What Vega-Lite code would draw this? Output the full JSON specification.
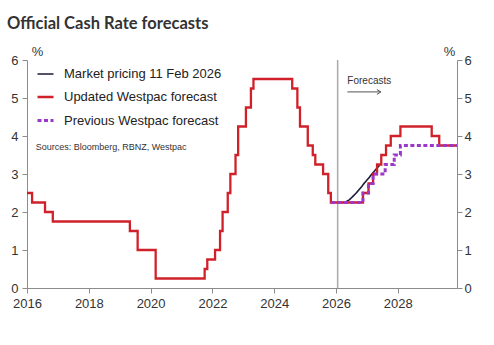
{
  "$schema": "https://vega.github.io/schema/vega-lite/v6.json",
  "width": 430,
  "height": 228,
  "autosize": {"type": "none"},
  "padding": {"left": 27, "top": 60, "right": 37, "bottom": 57},
  "background": "white",
  "config": {
    "view": {"stroke": null},
    "font": "Liberation Sans",
    "axis": {"grid": false, "domainColor": "#8c8c8c", "tickColor": "#8c8c8c", "labelColor": "#333333", "labelFontSize": 13, "labelFont": "Liberation Sans", "titleFont": "Liberation Sans", "titleFontWeight": "normal", "titleColor": "#333333", "titleFontSize": 13}
  },
  "title": {"text": "Official Cash Rate forecasts", "anchor": "start", "frame": "group", "dx": -20, "offset": 13, "font": "Lato", "fontSize": 16.5, "fontWeight": "bold", "color": "#333333"},
  "datasets": {
    "updated": [
      {"series": "Updated Westpac forecast", "date": "2016-01-01", "rate": 2.5},
      {"series": "Updated Westpac forecast", "date": "2016-03-01", "rate": 2.25},
      {"series": "Updated Westpac forecast", "date": "2016-08-01", "rate": 2.0},
      {"series": "Updated Westpac forecast", "date": "2016-11-01", "rate": 1.75},
      {"series": "Updated Westpac forecast", "date": "2019-05-01", "rate": 1.5},
      {"series": "Updated Westpac forecast", "date": "2019-08-01", "rate": 1.0},
      {"series": "Updated Westpac forecast", "date": "2020-03-01", "rate": 0.25},
      {"series": "Updated Westpac forecast", "date": "2021-10-01", "rate": 0.5},
      {"series": "Updated Westpac forecast", "date": "2021-11-01", "rate": 0.75},
      {"series": "Updated Westpac forecast", "date": "2022-02-01", "rate": 1.0},
      {"series": "Updated Westpac forecast", "date": "2022-04-01", "rate": 1.5},
      {"series": "Updated Westpac forecast", "date": "2022-05-01", "rate": 2.0},
      {"series": "Updated Westpac forecast", "date": "2022-07-01", "rate": 2.5},
      {"series": "Updated Westpac forecast", "date": "2022-08-01", "rate": 3.0},
      {"series": "Updated Westpac forecast", "date": "2022-10-01", "rate": 3.5},
      {"series": "Updated Westpac forecast", "date": "2022-11-01", "rate": 4.25},
      {"series": "Updated Westpac forecast", "date": "2023-02-01", "rate": 4.75},
      {"series": "Updated Westpac forecast", "date": "2023-04-01", "rate": 5.25},
      {"series": "Updated Westpac forecast", "date": "2023-05-01", "rate": 5.5},
      {"series": "Updated Westpac forecast", "date": "2024-08-01", "rate": 5.25},
      {"series": "Updated Westpac forecast", "date": "2024-10-01", "rate": 4.75},
      {"series": "Updated Westpac forecast", "date": "2024-11-01", "rate": 4.25},
      {"series": "Updated Westpac forecast", "date": "2025-02-01", "rate": 3.75},
      {"series": "Updated Westpac forecast", "date": "2025-04-01", "rate": 3.5},
      {"series": "Updated Westpac forecast", "date": "2025-05-01", "rate": 3.25},
      {"series": "Updated Westpac forecast", "date": "2025-08-01", "rate": 3.0},
      {"series": "Updated Westpac forecast", "date": "2025-10-01", "rate": 2.5},
      {"series": "Updated Westpac forecast", "date": "2025-11-01", "rate": 2.25},
      {"series": "Updated Westpac forecast", "date": "2026-11-15", "rate": 2.5},
      {"series": "Updated Westpac forecast", "date": "2027-01-20", "rate": 2.75},
      {"series": "Updated Westpac forecast", "date": "2027-03-15", "rate": 3.0},
      {"series": "Updated Westpac forecast", "date": "2027-05-01", "rate": 3.25},
      {"series": "Updated Westpac forecast", "date": "2027-06-20", "rate": 3.5},
      {"series": "Updated Westpac forecast", "date": "2027-08-15", "rate": 3.75},
      {"series": "Updated Westpac forecast", "date": "2027-10-10", "rate": 4.0},
      {"series": "Updated Westpac forecast", "date": "2028-02-01", "rate": 4.25},
      {"series": "Updated Westpac forecast", "date": "2029-02-05", "rate": 4.0},
      {"series": "Updated Westpac forecast", "date": "2029-05-05", "rate": 3.75},
      {"series": "Updated Westpac forecast", "date": "2029-12-01", "rate": 3.75}
    ],
    "previous": [
      {"series": "Previous Westpac forecast", "date": "2025-11-01", "rate": 2.25},
      {"series": "Previous Westpac forecast", "date": "2026-11-15", "rate": 2.5},
      {"series": "Previous Westpac forecast", "date": "2027-01-20", "rate": 2.75},
      {"series": "Previous Westpac forecast", "date": "2027-03-15", "rate": 3.0},
      {"series": "Previous Westpac forecast", "date": "2027-08-05", "rate": 3.25},
      {"series": "Previous Westpac forecast", "date": "2027-11-20", "rate": 3.5},
      {"series": "Previous Westpac forecast", "date": "2028-02-01", "rate": 3.75},
      {"series": "Previous Westpac forecast", "date": "2029-12-01", "rate": 3.75}
    ],
    "market": [
      {"series": "Market pricing 11 Feb 2026", "date": "2026-02-01", "rate": 2.25},
      {"series": "Market pricing 11 Feb 2026", "date": "2026-03-01", "rate": 2.25},
      {"series": "Market pricing 11 Feb 2026", "date": "2026-04-01", "rate": 2.25},
      {"series": "Market pricing 11 Feb 2026", "date": "2026-05-01", "rate": 2.27},
      {"series": "Market pricing 11 Feb 2026", "date": "2026-06-01", "rate": 2.31},
      {"series": "Market pricing 11 Feb 2026", "date": "2026-07-01", "rate": 2.37},
      {"series": "Market pricing 11 Feb 2026", "date": "2026-08-01", "rate": 2.44},
      {"series": "Market pricing 11 Feb 2026", "date": "2026-09-01", "rate": 2.51},
      {"series": "Market pricing 11 Feb 2026", "date": "2026-10-01", "rate": 2.59},
      {"series": "Market pricing 11 Feb 2026", "date": "2026-11-01", "rate": 2.67},
      {"series": "Market pricing 11 Feb 2026", "date": "2026-12-01", "rate": 2.76},
      {"series": "Market pricing 11 Feb 2026", "date": "2027-01-01", "rate": 2.84},
      {"series": "Market pricing 11 Feb 2026", "date": "2027-02-01", "rate": 2.92},
      {"series": "Market pricing 11 Feb 2026", "date": "2027-03-01", "rate": 3.0},
      {"series": "Market pricing 11 Feb 2026", "date": "2027-04-01", "rate": 3.08},
      {"series": "Market pricing 11 Feb 2026", "date": "2027-05-01", "rate": 3.16},
      {"series": "Market pricing 11 Feb 2026", "date": "2027-06-01", "rate": 3.23}
    ]
  },
  "layer": [
    {
      "encoding": {
        "x": {"field": "date", "type": "temporal", "title": null,
          "scale": {"type": "utc", "domain": [{"year": 2016, "month": 1, "date": 1, "utc": true}, {"year": 2029, "month": 12, "date": 1, "utc": true}]},
          "axis": {"values": [{"year": 2016, "utc": true}, {"year": 2017, "utc": true}, {"year": 2018, "utc": true}, {"year": 2019, "utc": true}, {"year": 2020, "utc": true}, {"year": 2021, "utc": true}, {"year": 2022, "utc": true}, {"year": 2023, "utc": true}, {"year": 2024, "utc": true}, {"year": 2025, "utc": true}, {"year": 2026, "utc": true}, {"year": 2027, "utc": true}, {"year": 2028, "utc": true}, {"year": 2029, "utc": true}],
            "labelExpr": "utcyear(datum.value) % 2 === 0 ? utcFormat(datum.value, '%Y') : ''", "tickSize": 5, "labelPadding": 4, "labelOverlap": false, "labelFlush": false}},
        "y": {"field": "rate", "type": "quantitative",
          "scale": {"domain": [0, 6], "nice": false},
          "axis": {"orient": "left", "values": [0, 1, 2, 3, 4, 5, 6], "labelOverlap": false, "title": "%", "titleAngle": 0, "titleX": 10, "titleY": -5, "titleAlign": "center", "titleBaseline": "alphabetic", "tickSize": 5, "labelPadding": 4}}
      },
      "layer": [
        {
          "data": {"values": [{"date": "2026-01-20", "rate": 0, "top": 6}]},
          "mark": {"type": "rule", "color": "#aaaaaa", "strokeWidth": 1.5},
          "encoding": {
            "y2": {"field": "top"}
          }
        },
        {
          "data": {"name": "market"},
          "mark": {"type": "line", "interpolate": "linear"},
          "encoding": {
            "color": {"field": "series", "type": "nominal", "scale": {"domain": ["Market pricing 11 Feb 2026", "Updated Westpac forecast", "Previous Westpac forecast"], "range": ["#1c1a3a", "#d0212a", "#9b38c8"]},
              "legend": {"title": null, "orient": "none", "legendX": 9, "legendY": 5, "symbolType": "stroke", "symbolSize": 256, "labelFontSize": 13, "labelFont": "Liberation Sans", "labelColor": "#222222", "labelOffset": 9, "rowPadding": 6.5, "padding": 0}},
            "strokeDash": {"field": "series", "type": "nominal", "scale": {"domain": ["Market pricing 11 Feb 2026", "Updated Westpac forecast", "Previous Westpac forecast"], "range": [[1, 0], [1, 0], [4, 2.5]]}},
            "strokeWidth": {"field": "series", "type": "nominal", "scale": {"domain": ["Market pricing 11 Feb 2026", "Updated Westpac forecast", "Previous Westpac forecast"], "range": [1.6, 3, 2]}}
          }
        },
        {
          "data": {"name": "updated"},
          "mark": {"type": "line", "interpolate": "step-after"},
          "encoding": {
            "color": {"field": "series", "type": "nominal"},
            "strokeDash": {"field": "series", "type": "nominal"},
            "strokeWidth": {"field": "series", "type": "nominal"}
          }
        },
        {
          "data": {"values": [{"date": "2016-04-12", "rate": 3.7, "label": "Sources: Bloomberg, RBNZ, Westpac"}]},
          "mark": {"type": "text", "align": "left", "baseline": "middle", "fontSize": 9, "font": "Liberation Sans", "color": "#333333"},
          "encoding": {
            "text": {"field": "label"}
          }
        },
        {
          "data": {"values": [{"date": "2026-05-15", "rate": 5.44, "label": "Forecasts"}]},
          "mark": {"type": "text", "align": "left", "baseline": "middle", "fontSize": 10, "font": "Liberation Sans", "color": "#333333"},
          "encoding": {
            "text": {"field": "label"}
          }
        },
        {
          "data": {"values": [{"date": "2026-05-15", "end": "2027-06-15", "rate": 5.16}]},
          "mark": {"type": "rule", "color": "#555555", "strokeWidth": 1},
          "encoding": {
            "x2": {"field": "end"}
          }
        },
        {
          "data": {"values": [{"date": "2027-06-15", "rate": 5.16}]},
          "mark": {"type": "point", "shape": "M-1,-0.6L0,0L-1,0.6", "filled": false, "size": 64, "stroke": "#555555", "strokeWidth": 1, "opacity": 1},
          "encoding": {}
        }
      ]
    },
    {
      "data": {"name": "previous"},
      "mark": {"type": "line", "interpolate": "step-after"},
      "encoding": {
        "x": {"field": "date", "type": "temporal"},
        "y": {"field": "rate", "type": "quantitative",
          "scale": {"domain": [0, 6], "nice": false},
          "axis": {"orient": "right", "values": [0, 1, 2, 3, 4, 5, 6], "labelOverlap": false, "title": "%", "titleAngle": 0, "titleX": -8, "titleY": -5, "titleAlign": "center", "titleBaseline": "alphabetic", "tickSize": 5, "labelPadding": 2}},
        "color": {"field": "series", "type": "nominal"},
        "strokeDash": {"field": "series", "type": "nominal"},
        "strokeWidth": {"field": "series", "type": "nominal"}
      }
    }
  ],
  "resolve": {"scale": {"y": "independent"}}
}
